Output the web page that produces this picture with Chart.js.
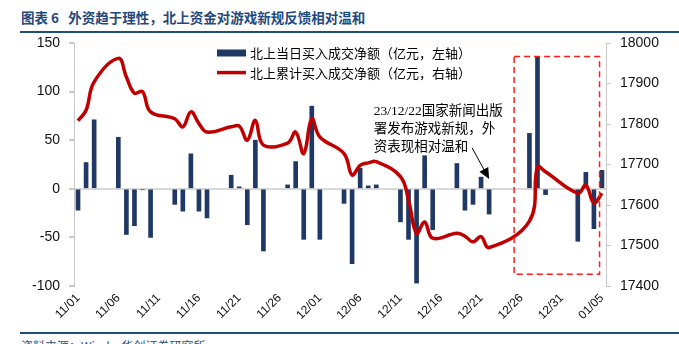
<!DOCTYPE html>
<html>
<head>
<meta charset="utf-8">
<script src="https://cdn.jsdelivr.net/npm/chart.js@4.4.1/dist/chart.umd.min.js"></script>
<style>
  body { margin: 0; width: 679px; height: 344px; overflow: hidden; background: #fff; position: relative; }
  #title { position: absolute; left: 21px; top: 7px; font: bold 13.5px "Noto Sans CJK SC", sans-serif; color: #1f497d; white-space: pre; }
  .rule { position: absolute; left: 20px; right: 0; height: 2px; background: #1f4e79; }
  #source { position: absolute; left: 21px; top: 337px; font: 12px "Noto Sans CJK SC", sans-serif; color: #1f4e79; }
  #wrap { position: absolute; left: 0; top: 0; }
</style>
</head>
<body>
<div id="title">图表 6   外资趋于理性，北上资金对游戏新规反馈相对温和</div>
<div class="rule" style="top:31px"></div>
<div class="rule" style="top:332px"></div>
<div id="source">资料来源：Wind，华创证券研究所</div>
<div id="wrap"><canvas id="graficoNorte" width="679" height="344"></canvas></div>
<script>
// datas corridas 11/01 - 01/05 (eixo de datas, fins de semana vazios)
const datas = [
  '11/01','11/02','11/03','11/04','11/05','11/06','11/07','11/08','11/09','11/10',
  '11/11','11/12','11/13','11/14','11/15','11/16','11/17','11/18','11/19','11/20',
  '11/21','11/22','11/23','11/24','11/25','11/26','11/27','11/28','11/29','11/30',
  '12/01','12/02','12/03','12/04','12/05','12/06','12/07','12/08','12/09','12/10',
  '12/11','12/12','12/13','12/14','12/15','12/16','12/17','12/18','12/19','12/20',
  '12/21','12/22','12/23','12/24','12/25','12/26','12/27','12/28','12/29','12/30',
  '12/31','01/01','01/02','01/03','01/04','01/05'
]

// 北上当日买入成交净额（亿元）
const liquidoDia = [
  -22, 27, 71, null, null, 53, -47, -38, -1, -50,
  null, null, -16, -23, 36, -23, -30, null, null, 14,
  2, -37, 50, -64, null, null, 4, 28, -52, 85,
  -52, null, null, -15, -77, 21, 3, 4, null, null,
  -34, -52, -97, 34, -42, null, null, 26, -22, -16,
  12, -26, null, null, null, null, 57, 136, -6, null,
  null, null, -54, 17, -41, 19
]

// 北上累计买入成交净额（亿元）
const liquidoAcum = [
  17808, 17834, 17904, null, null, 17962, 17916, 17876, 17880, 17830,
  null, null, 17813, 17793, 17830, 17801, 17780, null, null, 17793,
  17795, 17760, 17809, 17748, null, null, 17753, 17780, 17727, 17813,
  17768, null, null, 17727, 17674, 17698, 17704, 17707, null, null,
  17670, 17612, 17530, 17558, 17518, null, null, 17530, 17523, 17509,
  17522, 17495, null, null, null, null, 17560, 17694, 17682, null,
  null, null, 17629, 17649, 17605, 17629
]

const ticksEsq = [-100, -50, 0, 50, 100, 150]
const ticksDir = [17400, 17500, 17600, 17700, 17800, 17900, 18000]

const nomesSeries = ['北上当日买入成交净额（亿元，左轴）', '北上累计买入成交净额（亿元，右轴）']
const notaTexto = ['23/12/22国家新闻出版', '署发布游戏新规，外', '资表现相对温和']

const azul = '#203864'
const vermelho = '#c00000'
const cinza = '#c8c8c8'

const extras = {
    id: 'extras',
    afterDatasetsDraw(chart) {
        const { ctx, chartArea, scales } = chart
        const x = scales.x
        const y = scales.y
        ctx.save()

        // caixa tracejada (12/24 -> 01/05)
        const bx0 = x.getPixelForValue(54.1), bx1 = x.getPixelForValue(64.7)
        const by0 = y.getPixelForValue(136), by1 = y.getPixelForValue(-88)
        ctx.strokeStyle = '#ff1a1a'
        ctx.lineWidth = 1.5
        ctx.setLineDash([6, 4])
        ctx.strokeRect(bx0, by0, bx1 - bx0, by1 - by0)
        ctx.setLineDash([])

        // legenda
        const lx = chartArea.left + 143
        const ly = chartArea.top + 10
        ctx.fillStyle = azul
        ctx.fillRect(lx, ly - 3.5, 29, 7)
        ctx.strokeStyle = vermelho
        ctx.lineWidth = 3.5
        ctx.beginPath()
        ctx.moveTo(lx, ly + 19.6)
        ctx.lineTo(lx + 29, ly + 19.6)
        ctx.stroke()
        ctx.fillStyle = '#000'
        ctx.font = '13px "Noto Sans CJK SC"'
        ctx.textBaseline = 'middle'
        ctx.textAlign = 'left'
        ctx.fillText(nomesSeries[0], lx + 33, ly)
        ctx.fillText(nomesSeries[1], lx + 33, ly + 19.6)

        // nota
        ctx.font = '13.5px "Liberation Serif", "Noto Sans CJK SC"'
        const tx = x.getPixelForValue(36.7)
        notaTexto.forEach((linha, i) => {
            ctx.fillText(linha, tx, y.getPixelForValue(80 - i * 18.5))
        })

        // seta
        const ax0 = x.getPixelForValue(48.9), ay0 = y.getPixelForValue(42)
        const ax1 = x.getPixelForValue(51), ay1 = y.getPixelForValue(10)
        const ang = Math.atan2(ay1 - ay0, ax1 - ax0)
        ctx.strokeStyle = '#000'
        ctx.lineWidth = 1
        ctx.beginPath()
        ctx.moveTo(ax0, ay0)
        ctx.lineTo(ax1 - 8 * Math.cos(ang), ay1 - 8 * Math.sin(ang))
        ctx.stroke()
        ctx.fillStyle = '#000'
        ctx.beginPath()
        ctx.moveTo(ax1, ay1)
        ctx.lineTo(ax1 - 11 * Math.cos(ang) + 5 * Math.sin(ang), ay1 - 11 * Math.sin(ang) - 5 * Math.cos(ang))
        ctx.lineTo(ax1 - 11 * Math.cos(ang) - 5 * Math.sin(ang), ay1 - 11 * Math.sin(ang) + 5 * Math.cos(ang))
        ctx.closePath()
        ctx.fill()

        ctx.restore()
    }
}

const canvas = document.getElementById('graficoNorte')

new Chart(canvas, {
    data: {
        labels: datas,
        datasets: [{
            type: 'bar',
            label: nomesSeries[0],
            data: liquidoDia,
            backgroundColor: azul,
            barThickness: 4,
            yAxisID: 'y',
            order: 2
        }, {
            type: 'line',
            label: nomesSeries[1],
            data: liquidoAcum,
            borderColor: vermelho,
            borderWidth: 3.5,
            pointRadius: 0,
            tension: 0.4,
            spanGaps: true,
            yAxisID: 'y2',
            order: 1
        }]
    },
    options: {
        responsive: false,
        animation: false,
        layout: { padding: { top: 43, left: 0, right: 0, bottom: 0 } },
        plugins: { legend: { display: false }, tooltip: { enabled: false } },
        scales: {
            x: {
                offset: true,
                grid: { display: false, drawTicks: false },
                border: { display: false },
                ticks: {
                    autoSkip: false,
                    maxRotation: 45,
                    minRotation: 45,
                    padding: 5,
                    color: '#111',
                    font: { family: 'Liberation Sans', size: 12 },
                    callback: (v, i) => i % 5 === 0 ? datas[i] : ''
                },
                afterFit: s => { s.height = 58 }
            },
            y: {
                position: 'left',
                min: ticksEsq[0],
                max: ticksEsq[ticksEsq.length - 1],
                afterBuildTicks: s => { s.ticks = ticksEsq.map(v => ({ value: v })) },
                grid: {
                    color: c => c.tick && c.tick.value === 0 ? '#d9d9d9' : 'rgba(0,0,0,0)',
                    lineWidth: 2,
                    tickColor: cinza,
                    tickLength: 5
                },
                border: { color: cinza, width: 1 },
                ticks: { padding: 9, color: '#111', font: { family: 'Liberation Sans', size: 14 } },
                afterFit: s => { s.width = 74 }
            },
            y2: {
                position: 'right',
                min: ticksDir[0],
                max: ticksDir[ticksDir.length - 1],
                afterBuildTicks: s => { s.ticks = ticksDir.map(v => ({ value: v })) },
                grid: { drawOnChartArea: false, tickColor: cinza, tickLength: 5 },
                border: { color: cinza, width: 1 },
                ticks: {
                    padding: 9,
                    color: '#111',
                    font: { family: 'Liberation Sans', size: 14 },
                    callback: v => String(v)
                },
                afterFit: s => { s.width = 73 }
            }
        }
    },
    plugins: [extras]
})
</script>
</body>
</html>
